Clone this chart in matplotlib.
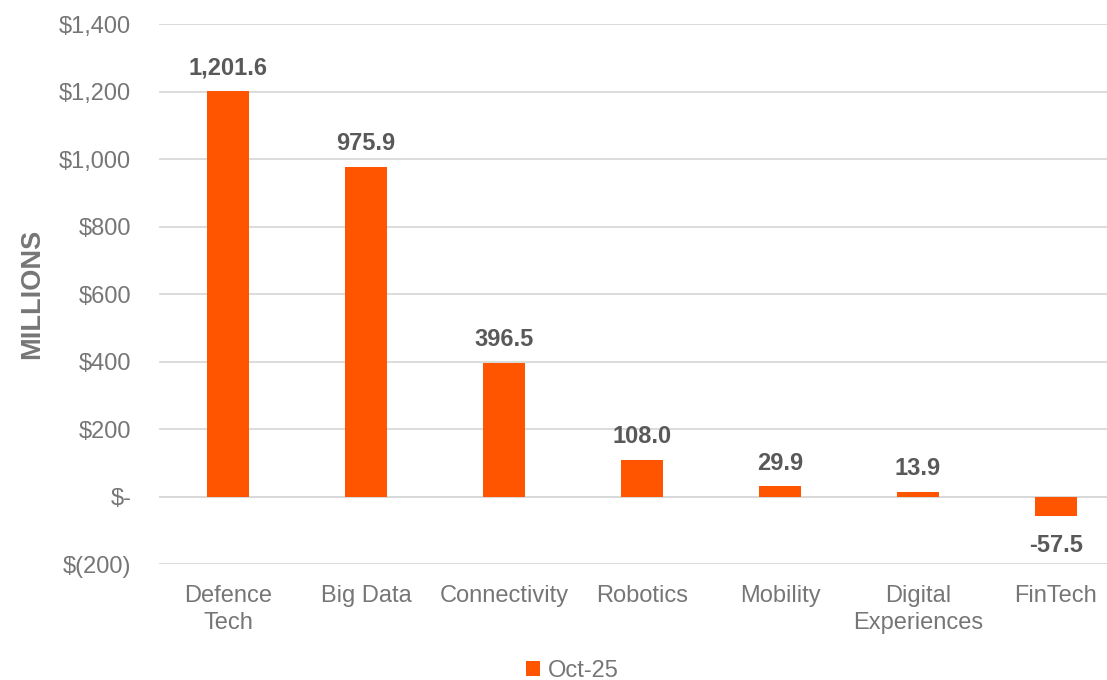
import matplotlib
matplotlib.use("Agg")
import matplotlib.pyplot as plt
from matplotlib.ticker import FuncFormatter

categories = ["Defence\nTech", "Big Data", "Connectivity", "Robotics", "Mobility", "Digital\nExperiences", "FinTech"]
values = [1201.6, 975.9, 396.5, 108.0, 29.9, 13.9, -57.5]
series_name = "Oct-25"
yticks = [-200, 0, 200, 400, 600, 800, 1000, 1200, 1400]

plt.rcParams['font.family'] = ['Liberation Sans', 'DejaVu Sans']
ORANGE = "#FF5500"
TICK_GRAY = "#767676"
LABEL_GRAY = "#595959"
GRID = "#D9D9D9"

fig = plt.figure(figsize=(11.07, 6.8), dpi=100)
ax = fig.add_axes([159/1107, 116/680, 966/1107, 540/680])

x = list(range(len(categories)))
bars = ax.bar(x, values, width=0.31, color=ORANGE, label=series_name, zorder=3)

ax.set_xlim(-0.5, len(categories) - 0.5)
ax.set_ylim(-200, 1400)
ax.set_yticks(yticks)

def fmt(v, pos):
    if v == 0:
        return "$-"
    if v < 0:
        return "$({:,.0f})".format(-v)
    return "${:,.0f}".format(v)

ax.yaxis.set_major_formatter(FuncFormatter(fmt))
ax.grid(axis='y', color=GRID, linewidth=1.3, zorder=0)
ax.axhline(0, color=GRID, linewidth=1.3, zorder=1)
for s in ax.spines.values():
    s.set_visible(False)
ax.tick_params(axis='both', length=0, labelsize=17, colors=TICK_GRAY)
ax.tick_params(axis='y', pad=20)
ax.tick_params(axis='x', pad=15)
ax.set_xticks(x)
ax.set_xticklabels(categories, linespacing=1.3)

ax.set_ylabel("MILLIONS", fontsize=19.5, fontweight='bold', color=TICK_GRAY, labelpad=10)

for xi, v in zip(x, values):
    if v >= 0:
        ax.annotate("{:,.1f}".format(v), (xi, v), xytext=(0, 8.5), textcoords='offset points',
                    ha='center', va='bottom', fontsize=17, fontweight='bold', color=LABEL_GRAY)
    else:
        ax.annotate("{:,.1f}".format(v), (xi, v), xytext=(0, -13), textcoords='offset points',
                    ha='center', va='top', fontsize=17, fontweight='bold', color=LABEL_GRAY)

fig.legend(loc='lower center', bbox_to_anchor=(0.517, -0.034), frameon=False, fontsize=17,
           handlelength=0.6, handleheight=0.6, handletextpad=0.3, labelcolor=TICK_GRAY)

fig.savefig("out.png", dpi=100)
